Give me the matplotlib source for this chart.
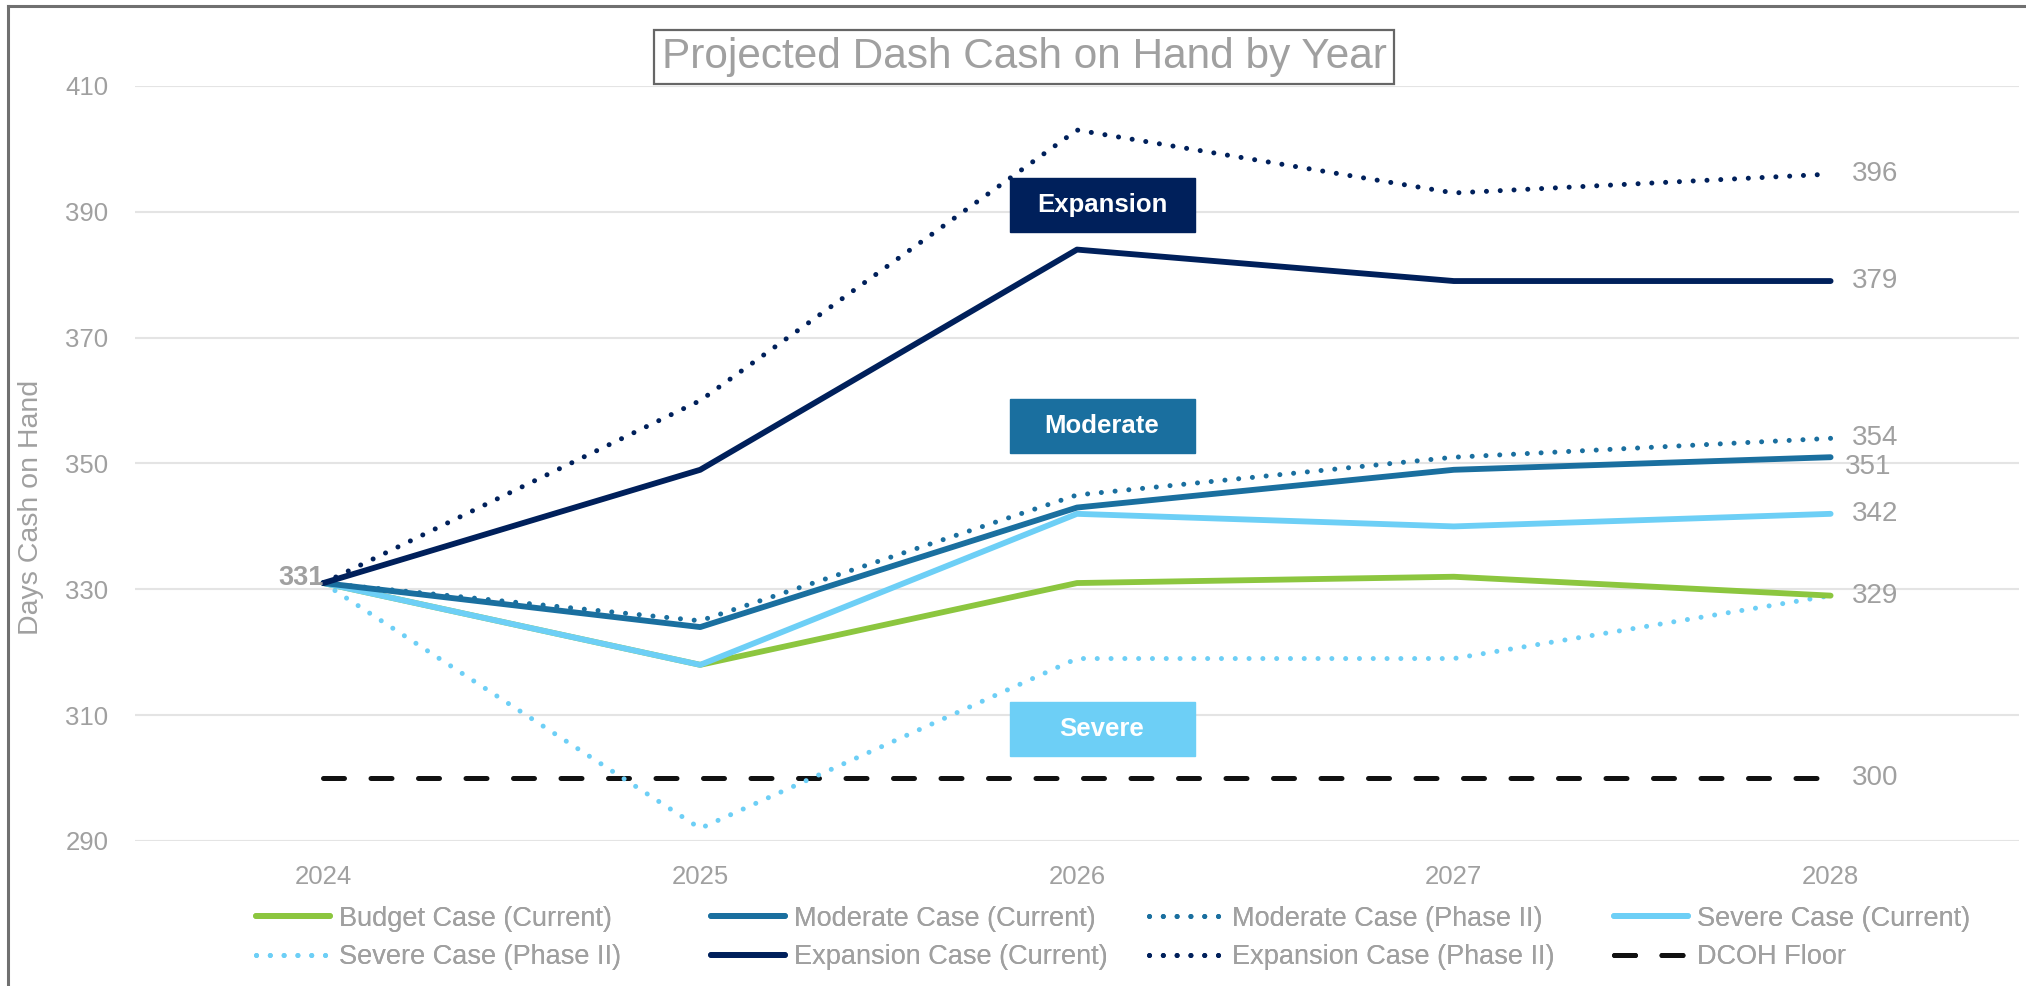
import matplotlib
matplotlib.use("Agg")
import matplotlib.pyplot as plt
from matplotlib.lines import Line2D

years = ["2024", "2025", "2026", "2027", "2028"]
budget_current = [331, 318, 331, 332, 329]
moderate_current = [331, 324, 343, 349, 351]
moderate_phase2 = [331, 325, 345, 351, 354]
severe_current = [331, 318, 342, 340, 342]
severe_phase2 = [331, 292, 319, 319, 329]
expansion_current = [331, 349, 384, 379, 379]
expansion_phase2 = [331, 360, 403, 393, 396]
dcoh_floor = [300, 300, 300, 300, 300]
y_ticks = [290, 310, 330, 350, 370, 390, 410]

GREEN = "#8CC63F"
MOD = "#1A6F9F"
SEV = "#6DCFF6"
NAVY = "#00205B"
BLACK = "#111111"
GRAY = "#A0A0A0"

plt.rcParams['font.family'] = ['Liberation Sans', 'DejaVu Sans']

W, H = 2026, 986
fig = plt.figure(figsize=(W / 100, H / 100), dpi=100)
ax = fig.add_axes([135 / W, 1 - 841 / H, (2019 - 135) / W, (841 - 86) / H])

x = list(range(len(years)))
dot = (0, (0.01, 2.75))

ax.plot(x, dcoh_floor, color=BLACK, lw=3.6, linestyle=(0, (4.2, 5.3)),
        dash_capstyle='round', label="DCOH Floor", zorder=2)
ax.plot(x, severe_phase2, color=SEV, lw=3.6, linestyle=dot, dash_capstyle='round',
        label="Severe Case (Phase II)", zorder=3)
ax.plot(x, budget_current, color=GREEN, lw=4.2, solid_capstyle='round',
        label="Budget Case (Current)", zorder=3)
ax.plot(x, severe_current, color=SEV, lw=4.2, solid_capstyle='round',
        label="Severe Case (Current)", zorder=4)
ax.plot(x, moderate_current, color=MOD, lw=4.2, solid_capstyle='round',
        label="Moderate Case (Current)", zorder=5)
ax.plot(x, moderate_phase2, color=MOD, lw=3.6, linestyle=dot, dash_capstyle='round',
        label="Moderate Case (Phase II)", zorder=5)
ax.plot(x, expansion_phase2, color=NAVY, lw=3.6, linestyle=dot, dash_capstyle='round',
        label="Expansion Case (Phase II)", zorder=6)
ax.plot(x, expansion_current, color=NAVY, lw=4.2, solid_capstyle='round',
        label="Expansion Case (Current)", zorder=6)

ax.set_xlim(-0.5, 4.5)
ax.set_ylim(290, 410)
ax.set_yticks(y_ticks)
ax.set_xticks(x)
ax.set_xticklabels(years)
ax.grid(axis='y', color="#E4E4E4", lw=1.5, zorder=0)
ax.set_axisbelow(True)
for s in ax.spines.values():
    s.set_visible(False)
ax.tick_params(axis='both', length=0, labelsize=18.5, labelcolor=GRAY)
ax.tick_params(axis='y', pad=19)
ax.tick_params(axis='x', pad=17)

# End value labels
last = len(years) - 1
end_labels = [
    (expansion_phase2[last], 0),
    (expansion_current[last], 0),
    (moderate_phase2[last], 0),
    (moderate_current[last], -10),
    (severe_current[last], 0),
    (budget_current[last], 0),
    (dcoh_floor[last], 0),
]
for val, dy in end_labels:
    dx = 21 if dy == 0 else 14
    ax.annotate(str(val), xy=(last, val), xytext=(dx, dy), textcoords='offset pixels',
                ha='left', va='center', fontsize=20, color=GRAY)
ax.annotate(str(expansion_current[0]), xy=(0, expansion_current[0]), xytext=(0, 5),
            textcoords='offset pixels', ha='right', va='center', fontsize=19.5,
            color=GRAY, fontweight='bold', zorder=7)

# Scenario boxes
boxes = [("Expansion", NAVY, 205), ("Moderate", MOD, 426), ("Severe", SEV, 729)]
for txt, col, ypix in boxes:
    fig.patches.append(plt.Rectangle(((1102 - 92.5) / W, 1 - (ypix + 27) / H), 185 / W, 54 / H,
                                     transform=fig.transFigure, color=col, zorder=10))
    fig.text(1102 / W, 1 - ypix / H, txt, ha='center', va='center', fontsize=18.5,
             fontweight='bold', color='white', zorder=11)

# Title
fig.text(1024 / W, 1 - 57 / H, "Projected Dash Cash on Hand by Year", ha='center', va='center',
         fontsize=30.5, color=GRAY,
         bbox=dict(boxstyle='square,pad=0.17', fc='white', ec='#666666', lw=1.6), zorder=12)

# Y label
fig.text(31 / W, 1 - 507 / H, "Days Cash on Hand", rotation=90, ha='center', va='center',
         fontsize=20.5, color=GRAY)

# Frame (top and left)
fig.lines.append(Line2D([8 / W, 1], [1 - 6 / H, 1 - 6 / H], transform=fig.transFigure,
                        color='#707070', lw=2.2))
fig.lines.append(Line2D([8 / W, 8 / W], [0, 1 - 6 / H], transform=fig.transFigure,
                        color='#707070', lw=2.2))

# Legend: four fixed-position columns
columns = [
    ["Budget Case (Current)", "Severe Case (Phase II)"],
    ["Moderate Case (Current)", "Expansion Case (Current)"],
    ["Moderate Case (Phase II)", "Expansion Case (Phase II)"],
    ["Severe Case (Current)", "DCOH Floor"],
]
col_x = [251, 706, 1144, 1609]
h, l = ax.get_legend_handles_labels()
hm = dict(zip(l, h))
for labels, cx in zip(columns, col_x):
    leg = fig.legend([hm[k] for k in labels], labels, ncol=1, loc='center left',
                     bbox_to_anchor=(cx / W, 1 - 938 / H), frameon=False, fontsize=19.5,
                     labelcolor=GRAY, handlelength=2.7, handletextpad=0.35,
                     labelspacing=0.45, borderaxespad=0, borderpad=0.2)
    fig.add_artist(leg)

fig.savefig("out.png", dpi=100)
